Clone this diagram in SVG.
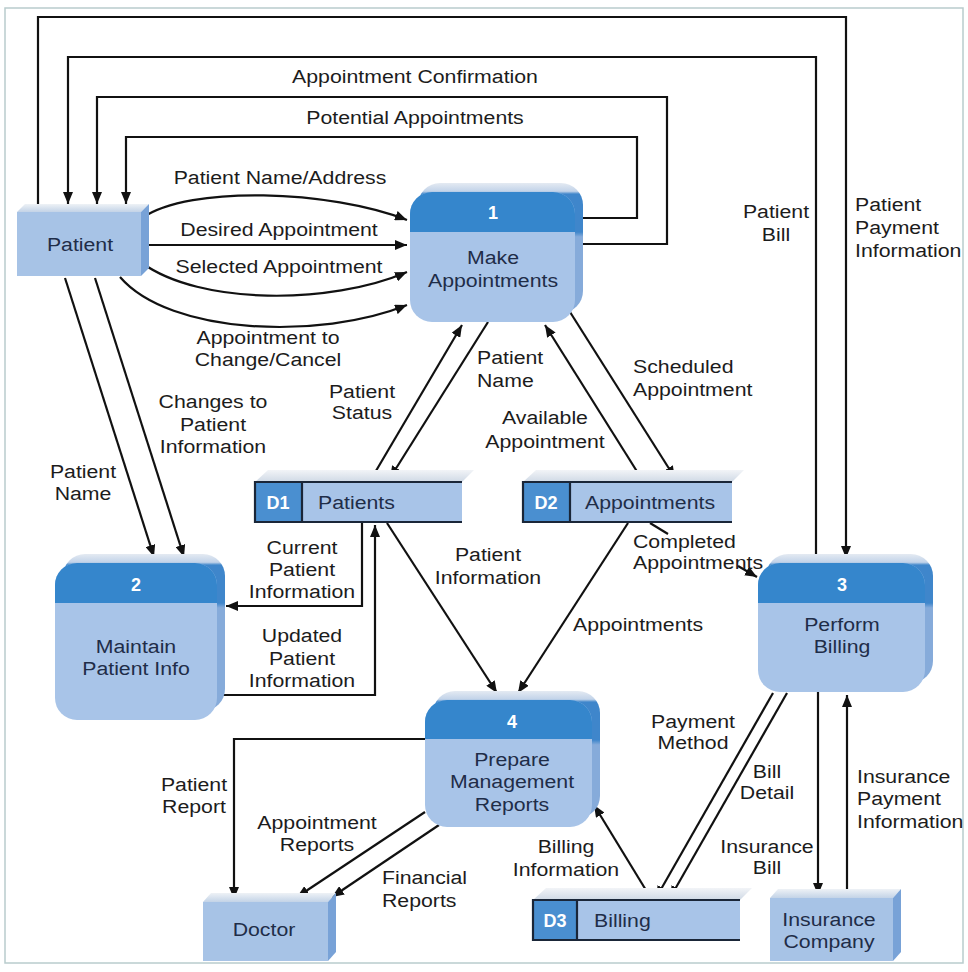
<svg xmlns="http://www.w3.org/2000/svg" width="968" height="972" viewBox="0 0 968 972">
  <defs>
    <marker id="arr" viewBox="0 0 12 10" refX="12" refY="5" markerWidth="12" markerHeight="10" markerUnits="userSpaceOnUse" orient="auto">
      <path d="M0,0 L12,5 L0,10 z" fill="#111"/>
    </marker>
    <!-- back face of a process box, drawn in the box's local coordinates -->
    <linearGradient id="procBack" gradientUnits="userSpaceOnUse" x1="0" y1="-9" x2="0" y2="60">
      <stop offset="0" stop-color="#e4eaf2"/>
      <stop offset="0.12" stop-color="#c2d3e9"/>
      <stop offset="0.16" stop-color="#3f86cb"/>
      <stop offset="0.71" stop-color="#3f86cb"/>
      <stop offset="0.78" stop-color="#86abda"/>
      <stop offset="1" stop-color="#86abda"/>
    </linearGradient>
    <linearGradient id="topFace" x1="0" y1="0" x2="0" y2="1">
      <stop offset="0" stop-color="#eef2f6"/>
      <stop offset="1" stop-color="#c3d3e7"/>
    </linearGradient>
    <linearGradient id="storeTop" x1="0" y1="0" x2="0" y2="1">
      <stop offset="0" stop-color="#f2f4f7"/>
      <stop offset="1" stop-color="#cfd9e5"/>
    </linearGradient>
  </defs>
  <style>
    .lbl { font-family: "Liberation Sans", Arial, sans-serif; font-size: 19px; fill: #1c1c1c; text-anchor: middle; }
    .lbs { font-family: "Liberation Sans", Arial, sans-serif; font-size: 19px; fill: #1c1c1c; text-anchor: start; }
    .nd { font-family: "Liberation Sans", Arial, sans-serif; font-size: 19px; fill: #1f2d48; text-anchor: middle; }
    .nds { font-family: "Liberation Sans", Arial, sans-serif; font-size: 19px; fill: #1f2d48; text-anchor: start; }
    .num { font-family: "Liberation Sans", Arial, sans-serif; font-size: 18px; font-weight: bold; fill: #ffffff; text-anchor: middle; }
    .pback { fill: url(#procBack); }
    .pbody { fill: #a8c4e8; }
    .phead { fill: #3586cc; }
    .efront { fill: #a7c3e6; }
    .eside { fill: #78a2d7; }
    .etop { fill: url(#topFace); }
    .stop { fill: url(#storeTop); }
    .sid { fill: #4a8fd0; }
    .sname { fill: #a8c4e8; }
    .sline { stroke: #1a2638; stroke-width: 2.2; fill: none; }
    .flow { stroke: #111; stroke-width: 2.2; fill: none; }
    .flow.a { marker-end: url(#arr); }
  </style>

  <rect width="968" height="972" fill="#ffffff"/>
  <rect x="5" y="8" width="958" height="955" fill="none" stroke="#b9cccd" stroke-width="1.5"/>

  <!-- connectors -->
  <g id="connectors">
    <path class="flow a" d="M38,207 V17 H846 V558"/>
    <path class="flow a" d="M816,563 V57 H68 V204"/>
    <path class="flow a" d="M583,244 H667 V97 H97 V204"/>
    <path class="flow a" d="M583,218 H637 V137 H126 V204"/>
    <path class="flow a" d="M142,218 C190,185 330,190 407,220"/>
    <path class="flow a" d="M146,245 H407"/>
    <path class="flow a" d="M142,263 C200,305 330,305 407,272"/>
    <path class="flow a" d="M120,277 C170,335 320,340 407,305"/>
    <path class="flow a" d="M65,278 L154,557"/>
    <path class="flow a" d="M95,278 L184,557"/>
    <path class="flow a" d="M370,481 L462,325"/>
    <path class="flow a" d="M488,322 L390,478"/>
    <path class="flow a" d="M643,481 L545,325"/>
    <path class="flow a" d="M570,312 L675,478"/>
    <path class="flow a" d="M362,523 V606 H226"/>
    <path class="flow a" d="M222,695 H375 V525"/>
    <path class="flow a" d="M387,523 L497,693"/>
    <path class="flow a" d="M628,523 L518,693"/>
    <path class="flow" d="M650,523 L668,534"/>
    <path class="flow a" d="M738,566 L757,577"/>
    <path class="flow a" d="M818,692 V895"/>
    <path class="flow a" d="M847,898 V695"/>
    <path class="flow a" d="M773,693 L656,898"/>
    <path class="flow a" d="M787,693 L670,898"/>
    <path class="flow a" d="M652,900 L594,805"/>
    <path class="flow a" d="M425,739 H234 V899"/>
    <path class="flow a" d="M425,812 L297,897"/>
    <path class="flow a" d="M439,825 L332,897"/>
  </g>

  <!-- connector labels -->
  <g id="labels">
    <text class="lbl" transform="translate(415 83) scale(1.12 1)">Appointment Confirmation</text>
    <text class="lbl" transform="translate(415 124) scale(1.12 1)">Potential Appointments</text>
    <text class="lbl" transform="translate(280 184) scale(1.12 1)">Patient Name/Address</text>
    <text class="lbl" transform="translate(279 236) scale(1.12 1)">Desired Appointment</text>
    <text class="lbl" transform="translate(279 273) scale(1.12 1)">Selected Appointment</text>
    <text class="lbl" transform="translate(268 344) scale(1.12 1)"><tspan x="0">Appointment to</tspan><tspan x="0" dy="22">Change/Cancel</tspan></text>
    <text class="lbl" transform="translate(776 218) scale(1.12 1)"><tspan x="0">Patient</tspan><tspan x="0" dy="23">Bill</tspan></text>
    <text class="lbs" transform="translate(855 211) scale(1.12 1)"><tspan x="0">Patient</tspan><tspan x="0" dy="23">Payment</tspan><tspan x="0" dy="23">Information</tspan></text>
    <text class="lbl" transform="translate(213 408) scale(1.12 1)"><tspan x="0">Changes to</tspan><tspan x="0" dy="23">Patient</tspan><tspan x="0" dy="22">Information</tspan></text>
    <text class="lbl" transform="translate(83 478) scale(1.12 1)"><tspan x="0">Patient</tspan><tspan x="0" dy="22">Name</tspan></text>
    <text class="lbl" transform="translate(362 398) scale(1.12 1)"><tspan x="0">Patient</tspan><tspan x="0" dy="21">Status</tspan></text>
    <text class="lbs" transform="translate(477 364) scale(1.12 1)"><tspan x="0">Patient</tspan><tspan x="0" dy="23">Name</tspan></text>
    <text class="lbl" transform="translate(545 424) scale(1.12 1)"><tspan x="0">Available</tspan><tspan x="0" dy="24">Appointment</tspan></text>
    <text class="lbs" transform="translate(633 373) scale(1.12 1)"><tspan x="0">Scheduled</tspan><tspan x="0" dy="23">Appointment</tspan></text>
    <text class="lbl" transform="translate(302 554) scale(1.12 1)"><tspan x="0">Current</tspan><tspan x="0" dy="22">Patient</tspan><tspan x="0" dy="22">Information</tspan></text>
    <text class="lbl" transform="translate(302 642) scale(1.12 1)"><tspan x="0">Updated</tspan><tspan x="0" dy="23">Patient</tspan><tspan x="0" dy="22">Information</tspan></text>
    <text class="lbl" transform="translate(488 561) scale(1.12 1)"><tspan x="0">Patient</tspan><tspan x="0" dy="23">Information</tspan></text>
    <text class="lbl" transform="translate(638 631) scale(1.12 1)">Appointments</text>
    <text class="lbs" transform="translate(633 548) scale(1.12 1)"><tspan x="0">Completed</tspan><tspan x="0" dy="21">Appointments</tspan></text>
    <text class="lbl" transform="translate(693 728) scale(1.12 1)"><tspan x="0">Payment</tspan><tspan x="0" dy="21">Method</tspan></text>
    <text class="lbl" transform="translate(767 778) scale(1.12 1)"><tspan x="0">Bill</tspan><tspan x="0" dy="21">Detail</tspan></text>
    <text class="lbl" transform="translate(767 853) scale(1.12 1)"><tspan x="0">Insurance</tspan><tspan x="0" dy="21">Bill</tspan></text>
    <text class="lbs" transform="translate(857 783) scale(1.12 1)"><tspan x="0">Insurance</tspan><tspan x="0" dy="22">Payment</tspan><tspan x="0" dy="23">Information</tspan></text>
    <text class="lbl" transform="translate(566 853) scale(1.12 1)"><tspan x="0">Billing</tspan><tspan x="0" dy="23">Information</tspan></text>
    <text class="lbl" transform="translate(194 791) scale(1.12 1)"><tspan x="0">Patient</tspan><tspan x="0" dy="22">Report</tspan></text>
    <text class="lbl" transform="translate(317 829) scale(1.12 1)"><tspan x="0">Appointment</tspan><tspan x="0" dy="22">Reports</tspan></text>
    <text class="lbs" transform="translate(382 884) scale(1.12 1)"><tspan x="0">Financial</tspan><tspan x="0" dy="23">Reports</tspan></text>
  </g>

  <!-- external entities -->
  <g id="patient">
    <polygon class="etop" points="17,212 25,204 149,204 141,212"/>
    <polygon class="eside" points="141,212 149,204 149,268 141,276"/>
    <rect class="efront" x="17" y="212" width="124" height="64"/>
    <text class="nd" transform="translate(80 251) scale(1.12 1)">Patient</text>
  </g>
  <g id="doctor">
    <polygon class="etop" points="203,902 211,893 336,893 328,902"/>
    <polygon class="eside" points="328,902 336,893 336,952 328,961"/>
    <rect class="efront" x="203" y="902" width="125" height="59"/>
    <text class="nd" transform="translate(264 936) scale(1.12 1)">Doctor</text>
  </g>
  <g id="insurance">
    <polygon class="etop" points="770,898 778,889 901,889 893,898"/>
    <polygon class="eside" points="893,898 901,889 901,952 893,961"/>
    <rect class="efront" x="770" y="898" width="123" height="63"/>
    <text class="nd" transform="translate(829 926) scale(1.12 1)"><tspan x="0">Insurance</tspan><tspan x="0" dy="22">Company</tspan></text>
  </g>

  <!-- processes -->
  <g id="p1" transform="translate(410 192)">
    <rect class="pback" x="8" y="-9" width="165" height="130" rx="22"/>
    <rect class="pbody" x="0" y="0" width="165" height="130" rx="22"/>
    <path class="phead" d="M0,40 V22 A22,22 0 0 1 22,0 H143 A22,22 0 0 1 165,22 V40 Z"/>
    <text class="num" x="83" y="27">1</text>
    <text class="nd" transform="translate(83 72) scale(1.12 1)"><tspan x="0">Make</tspan><tspan x="0" dy="23">Appointments</tspan></text>
  </g>
  <g id="p2" transform="translate(55 563)">
    <rect class="pback" x="8" y="-9" width="162" height="157" rx="22"/>
    <rect class="pbody" x="0" y="0" width="162" height="157" rx="22"/>
    <path class="phead" d="M0,40 V22 A22,22 0 0 1 22,0 H140 A22,22 0 0 1 162,22 V40 Z"/>
    <text class="num" x="81" y="28">2</text>
    <text class="nd" transform="translate(81 90) scale(1.12 1)"><tspan x="0">Maintain</tspan><tspan x="0" dy="22">Patient Info</tspan></text>
  </g>
  <g id="p3" transform="translate(758 563)">
    <rect class="pback" x="8" y="-9" width="167" height="129" rx="22"/>
    <rect class="pbody" x="0" y="0" width="167" height="129" rx="22"/>
    <path class="phead" d="M0,40 V22 A22,22 0 0 1 22,0 H145 A22,22 0 0 1 167,22 V40 Z"/>
    <text class="num" x="84" y="28">3</text>
    <text class="nd" transform="translate(84 68) scale(1.12 1)"><tspan x="0">Perform</tspan><tspan x="0" dy="22">Billing</tspan></text>
  </g>
  <g id="p4" transform="translate(425 700)">
    <rect class="pback" x="8" y="-9" width="167" height="127" rx="22"/>
    <rect class="pbody" x="0" y="0" width="167" height="127" rx="22"/>
    <path class="phead" d="M0,39 V22 A22,22 0 0 1 22,0 H145 A22,22 0 0 1 167,22 V39 Z"/>
    <text class="num" x="87" y="28">4</text>
    <text class="nd" transform="translate(87 66) scale(1.12 1)"><tspan x="0">Prepare</tspan><tspan x="0" dy="22">Management</tspan><tspan x="0" dy="23">Reports</tspan></text>
  </g>

  <!-- data stores -->
  <g id="d1">
    <polygon class="stop" points="255,482 268,470 474,470 462,482"/>
    <rect class="sname" x="255" y="482" width="207" height="40"/>
    <rect class="sid" x="255" y="482" width="47" height="40"/>
    <path class="sline" d="M462,482 H255 V522 H462 M302,482 V522"/>
    <text class="num" x="278" y="509">D1</text>
    <text class="nds" transform="translate(318 509) scale(1.12 1)">Patients</text>
  </g>
  <g id="d2">
    <polygon class="stop" points="523,482 536,470 744,470 732,482"/>
    <rect class="sname" x="523" y="482" width="209" height="40"/>
    <rect class="sid" x="523" y="482" width="47" height="40"/>
    <path class="sline" d="M732,482 H523 V522 H732 M570,482 V522"/>
    <text class="num" x="546" y="509">D2</text>
    <text class="nds" transform="translate(585 509) scale(1.12 1)">Appointments</text>
  </g>
  <g id="d3">
    <polygon class="stop" points="533,900 546,888 752,888 740,900"/>
    <rect class="sname" x="533" y="900" width="207" height="40"/>
    <rect class="sid" x="533" y="900" width="44" height="40"/>
    <path class="sline" d="M740,900 H533 V940 H740 M577,900 V940"/>
    <text class="num" x="555" y="927">D3</text>
    <text class="nds" transform="translate(594 927) scale(1.12 1)">Billing</text>
  </g>
</svg>
